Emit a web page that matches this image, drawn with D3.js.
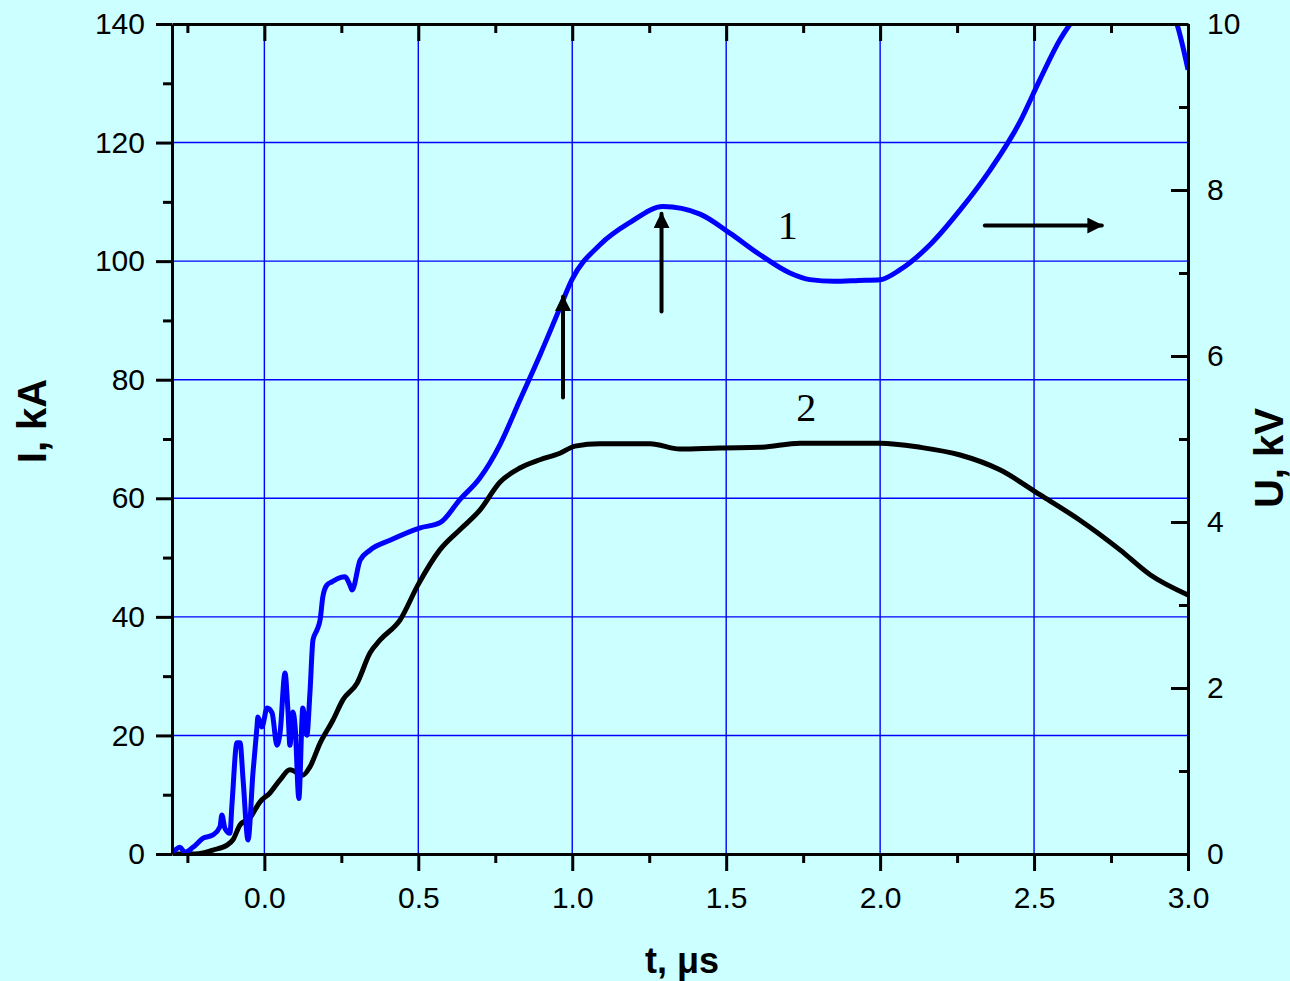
<!DOCTYPE html>
<html>
<head>
<meta charset="utf-8">
<script src="https://cdn.jsdelivr.net/npm/d3@7"></script>
<style>
  body { margin: 0; background: #ccffff; }
  svg { display: block; }
</style>
</head>
<body>
<div id="chart"></div>
<script>
// Curve 1: voltage U (kV), right axis
var tU = [-0.297, -0.274, -0.258, -0.232, -0.199, -0.167, -0.144, -0.138, -0.128, -0.112,
  -0.105, -0.089, -0.079, -0.069, -0.053, -0.037, -0.024, -0.021, -0.008, 0.009,
  0.025, 0.041, 0.051, 0.067, 0.077, 0.083, 0.093, 0.100, 0.112, 0.125,
  0.138, 0.148, 0.158, 0.171, 0.181, 0.190, 0.203, 0.220, 0.246, 0.262,
  0.278, 0.285, 0.311, 0.343, 0.408, 0.506, 0.570, 0.635, 0.700, 0.765,
  0.830, 0.895, 0.960, 0.999, 1.090, 1.188, 1.295, 1.415, 1.512, 1.610,
  1.707, 1.772, 1.85, 1.93, 2.000, 2.065, 2.162, 2.260, 2.357, 2.454,
  2.519, 2.584, 2.617, 2.682, 2.779, 2.877, 2.942, 2.964, 3.0];
var valU = [0.02, 0.08, 0.02, 0.08, 0.19, 0.23, 0.33, 0.47, 0.31, 0.25,
  0.61, 1.34, 1.34, 0.89, 0.17, 0.98, 1.53, 1.65, 1.53, 1.76,
  1.70, 1.31, 1.46, 2.18, 1.70, 1.31, 1.71, 1.53, 0.67, 1.76,
  1.43, 1.94, 2.58, 2.70, 2.82, 3.10, 3.24, 3.28, 3.33, 3.34,
  3.24, 3.18, 3.54, 3.66, 3.78, 3.93, 3.99, 4.27, 4.53, 4.93,
  5.47, 6.01, 6.58, 6.92, 7.34, 7.61, 7.80, 7.71, 7.48, 7.22,
  7.00, 6.92, 6.90, 6.91, 6.92, 7.04, 7.34, 7.76, 8.24, 8.82,
  9.33, 9.81, 10.0, 10.3, 10.5, 10.5, 10.2, 10.0, 9.45];

// Curve 2: current I (kA), left axis
var tI = [-0.30, -0.225, -0.199, -0.167, -0.121, -0.102, -0.079, -0.047, -0.014, 0.018,
  0.051, 0.083, 0.125, 0.148, 0.181, 0.223, 0.255, 0.301, 0.343, 0.376,
  0.441, 0.499, 0.570, 0.635, 0.700, 0.765, 0.830, 0.895, 0.960, 1.009,
  1.090, 1.253, 1.350, 1.480, 1.610, 1.740, 2.000, 2.130, 2.260, 2.389,
  2.519, 2.649, 2.779, 2.877, 3.000];
var valI = [0, 0, 0.17, 0.67, 1.5, 2.4, 4.9, 6.1, 8.8, 10.3,
  12.5, 14.2, 13.3, 14.7, 18.7, 22.6, 26.0, 28.8, 33.9, 36.1,
  39.5, 45.4, 51.3, 54.7, 58.0, 62.7, 65.1, 66.5, 67.6, 68.8,
  69.2, 69.2, 68.3, 68.5, 68.6, 69.3, 69.3, 68.6, 67.3, 64.8,
  60.6, 56.3, 51.3, 47.1, 43.7];

var xTicks = [0.0, 0.5, 1.0, 1.5, 2.0, 2.5, 3.0];
var xMinor = [-0.25, 0.25, 0.75, 1.25, 1.75, 2.25, 2.75];
var iTicks = [0, 20, 40, 60, 80, 100, 120, 140];
var iMinor = [10, 30, 50, 70, 90, 110, 130];
var uTicks = [0, 2, 4, 6, 8, 10];
var uMinor = [1, 3, 5, 7, 9];

// Curve numbers and arrows, placed in (t, I) units
var curveLabels = [{text: "1", t: 1.70, v: 103.8}, {text: "2", t: 1.76, v: 73.0}];
var arrows = [
  {t0: 0.97, v0: 77, t1: 0.97, v1: 94},
  {t0: 1.29, v0: 91.5, t1: 1.29, v1: 108},
  {t0: 2.34, v0: 106, t1: 2.72, v1: 106}
];

var width = 1290, height = 981;
var mLeft = 172, mRight = 1188, mTop = 24, mBottom = 854;

var svg = d3.select("#chart").append("svg")
  .attr("width", width).attr("height", height);

svg.append("rect").attr("width", width).attr("height", height).attr("fill", "#ccffff");

var x = d3.scaleLinear().domain([-0.3, 3.0]).range([mLeft, mRight]);
var yI = d3.scaleLinear().domain([0, 140]).range([mBottom, mTop]);
var yU = d3.scaleLinear().domain([0, 10]).range([mBottom, mTop]);

// grid
var grid = svg.append("g").attr("stroke", "#0000ff").attr("stroke-width", 1.4);
grid.selectAll(".gx").data(xTicks.filter(d => d > -0.3 && d < 3.0)).enter().append("line")
  .attr("x1", d => x(d)).attr("x2", d => x(d)).attr("y1", mTop).attr("y2", mBottom);
grid.selectAll(".gy").data(iTicks.filter(d => d > 0 && d < 140)).enter().append("line")
  .attr("y1", d => yI(d)).attr("y2", d => yI(d)).attr("x1", mLeft).attr("x2", mRight);

// clip for curves
svg.append("clipPath").attr("id", "clip").append("rect")
  .attr("x", mLeft).attr("y", mTop).attr("width", mRight - mLeft).attr("height", mBottom - mTop);

var lineI = d3.line().x((d, i) => x(tI[i])).y(d => yI(d)).curve(d3.curveMonotoneX);
var lineU = d3.line().x((d, i) => x(tU[i])).y(d => yU(d)).curve(d3.curveMonotoneX);

svg.append("path").datum(valI).attr("clip-path", "url(#clip)")
  .attr("fill", "none").attr("stroke", "#000").attr("stroke-width", 5)
  .attr("stroke-linejoin", "round").attr("d", lineI);
svg.append("path").datum(valU).attr("clip-path", "url(#clip)")
  .attr("fill", "none").attr("stroke", "#0000ff").attr("stroke-width", 5)
  .attr("stroke-linejoin", "round").attr("d", lineU);

// axes
var font = "'Liberation Sans', Arial, sans-serif";
function styleAxis(g) {
  g.select(".domain").attr("stroke", "#000").attr("stroke-width", 3);
  g.selectAll(".tick line").attr("stroke", "#000").attr("stroke-width", 3);
  g.selectAll(".tick text").attr("font-family", font).attr("font-size", 30).attr("fill", "#000");
}

var bottomAxis = svg.append("g").attr("transform", "translate(0," + mBottom + ")")
  .call(d3.axisBottom(x).tickValues(xTicks).tickFormat(d3.format(".1f")).tickSizeInner(17).tickSizeOuter(0).tickPadding(16));
styleAxis(bottomAxis);
var bottomMinor = svg.append("g").attr("transform", "translate(0," + mBottom + ")")
  .call(d3.axisBottom(x).tickValues(xMinor).tickFormat("").tickSize(9));
styleAxis(bottomMinor);
bottomMinor.select(".domain").remove();

var topAxis = svg.append("g").attr("transform", "translate(0," + mTop + ")")
  .call(d3.axisTop(x).tickValues(xTicks).tickFormat("").tickSizeInner(-17).tickSizeOuter(0));
styleAxis(topAxis);
var topMinor = svg.append("g").attr("transform", "translate(0," + mTop + ")")
  .call(d3.axisTop(x).tickValues(xMinor).tickFormat("").tickSize(-9));
styleAxis(topMinor);
topMinor.select(".domain").remove();

var leftAxis = svg.append("g").attr("transform", "translate(" + mLeft + ",0)")
  .call(d3.axisLeft(yI).tickValues(iTicks).tickSizeInner(16).tickSizeOuter(0).tickPadding(11));
styleAxis(leftAxis);
var leftMinor = svg.append("g").attr("transform", "translate(" + mLeft + ",0)")
  .call(d3.axisLeft(yI).tickValues(iMinor).tickFormat("").tickSize(9));
styleAxis(leftMinor);
leftMinor.select(".domain").remove();

var rightAxis = svg.append("g").attr("transform", "translate(" + mRight + ",0)")
  .call(d3.axisRight(yU).tickValues(uTicks).tickSizeInner(-17).tickSizeOuter(0).tickPadding(19));
styleAxis(rightAxis);
var rightMinor = svg.append("g").attr("transform", "translate(" + mRight + ",0)")
  .call(d3.axisRight(yU).tickValues(uMinor).tickFormat("").tickSize(-9));
styleAxis(rightMinor);
rightMinor.select(".domain").remove();

// axis titles
svg.append("text").attr("transform", "translate(46,421) rotate(-90)")
  .attr("text-anchor", "middle").attr("font-family", font).attr("font-weight", "bold")
  .attr("font-size", 40).text("I, kA");
svg.append("text").attr("transform", "translate(1283,458) rotate(-90)")
  .attr("text-anchor", "middle").attr("font-family", font).attr("font-weight", "bold")
  .attr("font-size", 40).text("U, kV");
svg.append("text").attr("x", 682).attr("y", 973)
  .attr("text-anchor", "middle").attr("font-family", font).attr("font-weight", "bold")
  .attr("font-size", 36).text("t, \u03bcs");

// curve numbers
svg.selectAll(".num").data(curveLabels).enter().append("text")
  .attr("x", d => x(d.t)).attr("y", d => yI(d.v))
  .attr("text-anchor", "middle")
  .attr("font-family", "'Liberation Serif', 'Times New Roman', serif")
  .attr("font-size", 40).text(d => d.text);

// arrows
svg.append("defs").append("marker").attr("id", "head")
  .attr("viewBox", "0 0 10 10").attr("refX", 9).attr("refY", 5)
  .attr("markerWidth", 6).attr("markerHeight", 4).attr("orient", "auto")
  .attr("markerUnits", "strokeWidth")
  .append("path").attr("d", "M0,0 L10,5 L0,10 Z").attr("fill", "#000");
svg.selectAll(".arrow").data(arrows).enter().append("line")
  .attr("x1", d => x(d.t0)).attr("y1", d => yI(d.v0))
  .attr("x2", d => x(d.t1)).attr("y2", d => yI(d.v1))
  .attr("stroke", "#000").attr("stroke-width", 4)
  .attr("stroke-linecap", "round")
  .attr("marker-end", "url(#head)");
</script>
</body>
</html>
